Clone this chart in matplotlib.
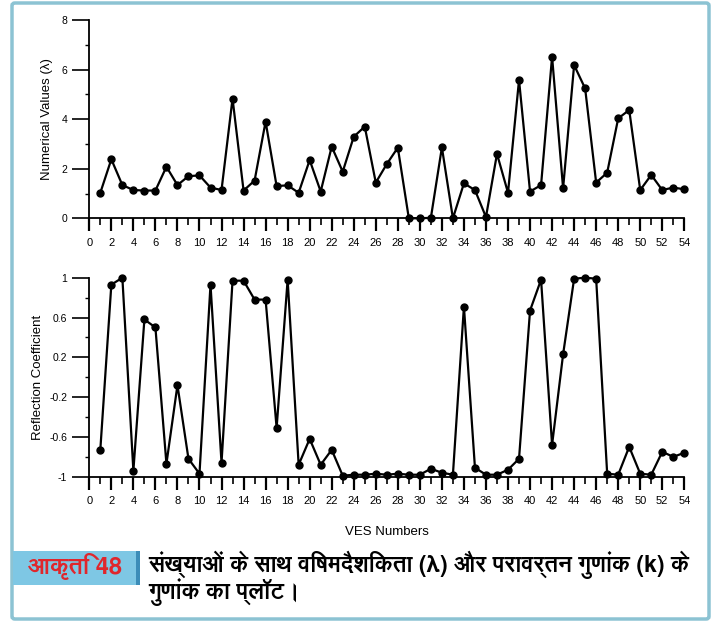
import matplotlib
matplotlib.use("Agg")
import matplotlib.pyplot as plt
from matplotlib import font_manager
from matplotlib.ft2font import FT2Font
from matplotlib.patches import FancyBboxPatch, Rectangle
from matplotlib.ticker import MultipleLocator

# ---------------- data ----------------
ves = list(range(1, 55))
anisotropy = [1.03, 2.38, 1.34, 1.14, 1.12, 1.12, 2.08, 1.34, 1.70, 1.73,
              1.24, 1.14, 4.83, 1.12, 1.52, 3.90, 1.30, 1.33, 1.03, 2.35,
              1.08, 2.89, 1.88, 3.29, 3.70, 1.44, 2.19, 2.85, 0.00, 0.00,
              0.02, 2.86, 0.00, 1.41, 1.14, 0.05, 2.60, 1.03, 5.58, 1.08,
              1.34, 6.52, 1.21, 6.18, 5.24, 1.44, 1.84, 4.03, 4.37, 1.14,
              1.75, 1.14, 1.24, 1.17]
reflection = [-0.73, 0.93, 1.00, -0.94, 0.58, 0.50, -0.87, -0.08, -0.82, -0.97,
              0.93, -0.86, 0.97, 0.97, 0.78, 0.78, -0.51, 0.98, -0.88, -0.62,
              -0.88, -0.73, -0.99, -0.98, -0.98, -0.97, -0.98, -0.97, -0.98, -0.98,
              -0.92, -0.96, -0.98, 0.71, -0.91, -0.98, -0.98, -0.93, -0.82, 0.67,
              0.98, -0.68, 0.23, 0.99, 1.00, 0.99, -0.97, -0.98, -0.70, -0.97,
              -0.98, -0.75, -0.80, -0.76]
xticks = list(range(0, 55, 2))
top_yticks = [0, 2, 4, 6, 8]
bot_yticks = [-1, -0.6, -0.2, 0.2, 0.6, 1]
bot_yticklabels = ["-1", "-0.6", "-0.2", "0.2", "0.6", "1"]
top_ylabel = "Numerical Values (λ)"
bot_ylabel = "Reflection Coefficient"
xlabel = "VES Numbers"
fig_label = "आकृति 48"
caption = "संख्याओं के साथ विषमदैशिकता (λ) और परावर्तन गुणांक (k) के\nगुणांक का प्लॉट।"

# -------- find a font with Devanagari glyphs (prefer bold) --------
deva_regular = None
deva_bold = None
for fe in font_manager.fontManager.ttflist:
    try:
        cmap = FT2Font(fe.fname).get_charmap()
    except Exception:
        continue
    if 0x0915 in cmap and 0x093F in cmap:
        w = fe.weight if isinstance(fe.weight, int) else 400
        if w >= 600 and deva_bold is None:
            deva_bold = fe
        if deva_regular is None:
            deva_regular = fe
deva = deva_bold or deva_regular
cap_family = [deva.name, "DejaVu Sans"] if deva else ["DejaVu Sans"]

plt.rcParams["font.family"] = ["Liberation Sans", "DejaVu Sans"]

W, H = 717, 623
fig = plt.figure(figsize=(W / 100, H / 100), dpi=100)
fig.patch.set_facecolor("white")

def fx(px):
    return px / W

def fy(py):
    return 1 - py / H

# outer frame
frame = FancyBboxPatch((fx(12), fy(619)), fx(709) - fx(12), fy(3) - fy(619),
                       boxstyle="round,pad=0,rounding_size=0.004",
                       transform=fig.transFigure, fill=False,
                       edgecolor="#8CC3D3", linewidth=2.5, zorder=0)
fig.patches.append(frame)

def style_axes(ax):
    for s in ("top", "right"):
        ax.spines[s].set_visible(False)
    ax.spines["left"].set_linewidth(1.3)
    ax.spines["bottom"].set_linewidth(1.3)
    ax.set_xlim(0, 54)
    ax.set_xticks(xticks)
    ax.xaxis.set_minor_locator(MultipleLocator(1))
    ax.tick_params(axis="x", which="major", direction="out", length=9, width=1.6,
                   labelsize=8, pad=5)
    ax.tick_params(axis="x", which="minor", direction="out", length=5, width=1.2)
    ax.tick_params(axis="y", which="major", direction="out", length=12, width=1.2,
                   labelsize=7.5, pad=4)
    ax.tick_params(axis="y", which="minor", direction="out", length=3, width=1.0)

# top axes
ax1 = fig.add_axes([fx(89.3), fy(218.3), fx(684.3) - fx(89.3), fy(20) - fy(218.3)])
ax1.plot(ves, anisotropy, color="black", linewidth=1.6, marker="o", markersize=5,
         clip_on=False)
ax1.set_ylim(0, 8)
ax1.set_yticks(top_yticks)
ax1.yaxis.set_minor_locator(MultipleLocator(1))
style_axes(ax1)
ax1.set_ylabel(top_ylabel, fontsize=9.5, labelpad=6)

# bottom axes
ax2 = fig.add_axes([fx(89.3), fy(476.7), fx(684.3) - fx(89.3), fy(277.7) - fy(476.7)])
ax2.plot(ves, reflection, color="black", linewidth=1.6, marker="o", markersize=5,
         clip_on=False)
ax2.set_ylim(-1, 1)
ax2.set_yticks(bot_yticks)
ax2.set_yticklabels(bot_yticklabels)
ax2.yaxis.set_minor_locator(MultipleLocator(0.2))
style_axes(ax2)
ax2.set_ylabel(bot_ylabel, fontsize=9.5, labelpad=4)
ax2.set_xlabel(xlabel, fontsize=9.5, labelpad=14)

# caption label box
fig.patches.append(Rectangle((fx(13), fy(585)), fx(138) - fx(13), fy(551) - fy(585),
                             transform=fig.transFigure, facecolor="#7EC7E4",
                             edgecolor="none", zorder=1))
fig.patches.append(Rectangle((fx(136), fy(585)), fx(140) - fx(136), fy(551) - fy(585),
                             transform=fig.transFigure, facecolor="#3C8DB8",
                             edgecolor="none", zorder=2))
fig.text(fx(75), fy(567), fig_label, color="#E0262C", fontsize=17, fontweight="bold",
         ha="center", va="center", family=cap_family, zorder=3)
fig.text(fx(148), fy(578), caption, color="black", fontsize=16.5, fontweight="bold",
         ha="left", va="center", family=cap_family, linespacing=0.95, zorder=3)

fig.savefig("out.png", dpi=100, facecolor="white")
